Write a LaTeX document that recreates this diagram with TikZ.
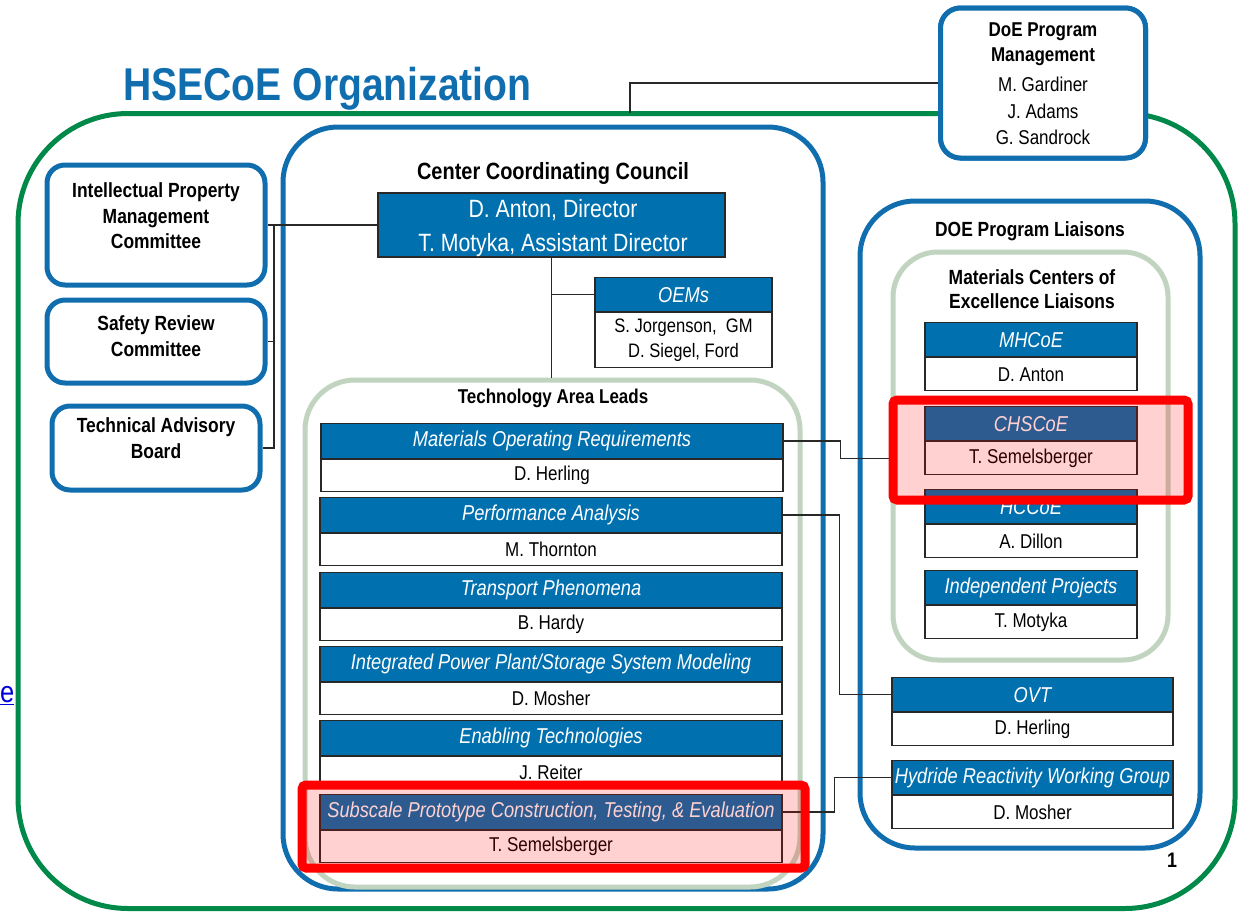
\documentclass[tikz,border=0pt]{standalone}
\usepackage{fontspec}
\setmainfont{Liberation Sans}[FakeStretch=0.85]
\definecolor{bl}{RGB}{16,110,175}
\definecolor{hb}{RGB}{0,112,175}
\definecolor{gr}{RGB}{0,137,72}
\definecolor{sage}{RGB}{192,212,192}
\definecolor{ln}{RGB}{40,40,40}
\definecolor{linkblue}{RGB}{0,0,220}
\tikzset{
  conn/.style={draw=ln, line width=1.5pt},
  hdr/.style={draw=ln, line width=1.2pt, fill=hb, text=white, font=\fontsize{21.5}{24}\selectfont\itshape, inner sep=0pt, anchor=north, minimum height=35pt},
  bod/.style={draw=ln, line width=1.2pt, fill=white, text=black, font=\fontsize{20}{24}\selectfont, inner sep=0pt, anchor=north, minimum height=32pt},
  blbox/.style={draw=bl, line width=5pt, rounded corners=#1, fill=white, inner sep=0pt},
  sgbox/.style={draw=sage, line width=5pt, rounded corners=#1, fill=white, inner sep=0pt},
  ttl/.style={font=\bfseries\fontsize{20}{24}\selectfont, align=center, inner sep=0pt},
  hilite/.style={draw=red, line width=9pt, rounded corners=4pt, fill=red, fill opacity=0.18, draw opacity=1}
}
\begin{document}
\begin{tikzpicture}[x=1pt,y=-1pt]
\useasboundingbox (0,0) rectangle (1238,913);
% outer green frame
\node[draw=gr, line width=5pt, rounded corners=110pt, minimum width=1217pt, minimum height=795pt, inner sep=0pt] (outer) at (626.5,511) {};
% title
\node[anchor=base west, text=bl, font=\bfseries\fontsize{46}{50}\selectfont, inner sep=0pt] (title) at (123,100) {HSECoE Organization};
% DoE program management
\coordinate (gtop) at (630,113);
\node[blbox=20pt, minimum width=205pt, minimum height=150pt] (doe) at (1043,83) {};
\draw[conn] (doe.west) -| (gtop);
\node[blbox=20pt, minimum width=205pt, minimum height=150pt] (doe2) at (1043,83) {};
\node[align=center, font=\fontsize{20}{26.5}\selectfont, inner sep=0pt] (doet) at (1043,84) {\textbf{DoE Program}\\[-2pt]\textbf{Management}\\[4pt]M. Gardiner\\J. Adams\\G. Sandrock};
% committees
\node[blbox=18pt, minimum width=218pt, minimum height=120pt] (ip) at (156,225) {};
\node[ttl, font=\bfseries\fontsize{20.5}{25.5}\selectfont] (ipt) at (156,216) {Intellectual Property\\Management\\Committee};
\node[blbox=18pt, minimum width=218pt, minimum height=83pt] (src) at (156,341.5) {};
\node[ttl, font=\bfseries\fontsize{20.5}{25.5}\selectfont] (srct) at (156,336) {Safety Review\\Committee};
\node[blbox=18pt, minimum width=208pt, minimum height=84pt] (tab) at (156,448) {};
\node[ttl, font=\bfseries\fontsize{20.5}{25.5}\selectfont] (tabt) at (156,438) {Technical Advisory\\Board};
% containers
\node[blbox=55pt, minimum width=540pt, minimum height=762pt] (ccc) at (553,508) {};
\node[blbox=55pt, minimum width=340pt, minimum height=647pt] (dpl) at (1030,524.5) {};
\node[sgbox=50pt, minimum width=495pt, minimum height=507pt] (tal) at (552.5,633.5) {};
\node[sgbox=45pt, minimum width=275pt, minimum height=408pt] (mcoe) at (1030.5,456) {};
% container titles
\node[ttl, font=\bfseries\fontsize{23.5}{26}\selectfont] (ccct) at (553,173) {Center Coordinating Council};
\node[ttl, font=\bfseries\fontsize{20.5}{24}\selectfont] (dplt) at (1030,231) {DOE Program Liaisons};
\node[ttl, font=\bfseries\fontsize{20.5}{24.5}\selectfont] (mcoet) at (1032,289) {Materials Centers of\\Excellence Liaisons};
\node[ttl, font=\bfseries\fontsize{20}{22}\selectfont] (talt) at (553,398) {Technology Area Leads};
% director
\node[draw=ln, line width=1.2pt, fill=hb, minimum width=347pt, minimum height=64pt, inner sep=0pt] (dir) at (551.5,225) {};
\node[text=white, inner sep=0pt, align=center, font=\fontsize{25}{34}\selectfont] (dirt) at (553,228.5) {D. Anton, Director\\T. Motyka, Assistant Director};
% OEMs
\node[hdr, minimum width=177pt, minimum height=34pt] (oemh) at (683.5,277) {OEMs};
\node[bod, minimum width=177pt, minimum height=55pt, align=center, font=\fontsize{19.5}{25}\selectfont] (oemb) at (oemh.south) {S. Jorgenson,\ \ GM\\D. Siegel, Ford};
% connectors left
\coordinate (vx) at (274,225);
\draw[conn] (ip.east) -- (dir.west);
\draw[conn] (vx) |- (src.east);
\draw[conn] (vx) |- (tab.east);
\draw[conn] (dir.south) -- (dir.south |- tal.north);
\draw[conn] (dir.south |- oemh.west) -- (oemh.west);
% technology rows
\node[hdr, minimum width=462pt] (r1h) at (552,423) {Materials Operating Requirements};
\node[bod, minimum width=462pt] (r1b) at (r1h.south) {D. Herling};
\node[hdr, minimum width=462pt] (r2h) at (551,497) {Performance Analysis};
\node[bod, minimum width=462pt] (r2b) at (r2h.south) {M. Thornton};
\node[hdr, minimum width=462pt] (r3h) at (551,572) {Transport Phenomena};
\node[bod, minimum width=462pt] (r3b) at (r3h.south) {B. Hardy};
\node[hdr, minimum width=462pt] (r4h) at (551,646) {Integrated Power Plant/Storage System Modeling};
\node[bod, minimum width=462pt] (r4b) at (r4h.south) {D. Mosher};
\node[hdr, minimum width=462pt] (r5h) at (551,720) {Enabling Technologies};
\node[bod, minimum width=462pt] (r5b) at (r5h.south) {J. Reiter};
\node[hdr, minimum width=462pt] (r6h) at (551,794) {Subscale Prototype Construction, Testing, \& Evaluation};
\node[bod, minimum width=462pt] (r6b) at (r6h.south) {T. Semelsberger};
% liaison rows
\node[hdr, minimum width=212pt, minimum height=34pt] (mhh) at (1031,322) {MHCoE};
\node[bod, minimum width=212pt, minimum height=33pt] (mhb) at (mhh.south) {D. Anton};
\node[hdr, minimum width=212pt, minimum height=34pt] (chh) at (1031,406) {CHSCoE};
\node[bod, minimum width=212pt, minimum height=33pt] (cb) at (chh.south) {T. Semelsberger};
\node[hdr, minimum width=212pt, minimum height=34pt] (hch) at (1031,489) {HCCoE};
\node[bod, minimum width=212pt, minimum height=33pt] (hcb) at (hch.south) {A. Dillon};
\node[hdr, minimum width=212pt, minimum height=34pt] (iph) at (1031,570) {Independent Projects};
\node[bod, minimum width=212pt, minimum height=33pt] (ipb) at (iph.south) {T. Motyka};
\node[hdr, minimum width=281pt, minimum height=34pt] (ovth) at (1032.5,677) {OVT};
\node[bod, minimum width=281pt, minimum height=33pt] (ovtb) at (ovth.south) {D. Herling};
\node[hdr, minimum width=281pt, minimum height=34pt] (hyh) at (1032.5,760) {Hydride Reactivity Working Group};
\node[bod, minimum width=281pt, minimum height=33pt] (hyb) at (hyh.south) {D. Mosher};
% connectors right
\draw[conn] (r1h.east) -- ++(57pt,0) |- (mcoe.west |- cb.west);
\draw[conn] (r2h.east) -- ++(57pt,0) |- (ovth.west);
\draw[conn] (r6h.east) -- ++(52pt,0) |- (hyh.west);
% highlights
\node[hilite, minimum width=295pt, minimum height=100pt, inner sep=0pt] (hl1) at (1040.5,450) {};
\node[hilite, minimum width=503pt, minimum height=83pt, inner sep=0pt] (hl2) at (553.5,826.5) {};
% page number and link fragment
\node[font=\bfseries\fontsize{21}{24}\selectfont, inner sep=0pt] (pg) at (1172,860) {1};
\node[anchor=base west, text=linkblue, font=\fontsize{30}{34}\selectfont, inner sep=0pt] (lnk) at (0,702) {\underline{e}};
\end{tikzpicture}
\end{document}
